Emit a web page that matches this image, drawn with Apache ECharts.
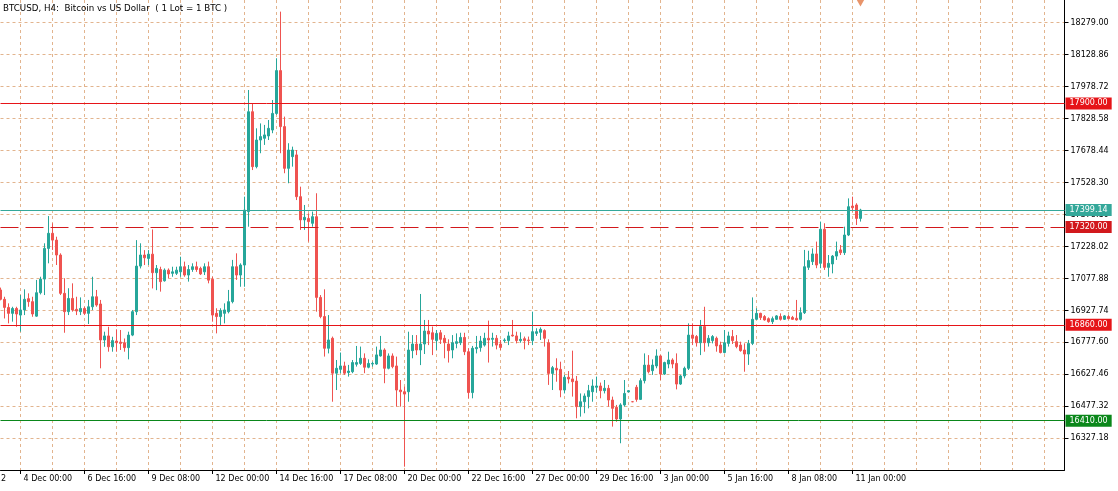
<!DOCTYPE html>
<html><head><meta charset="utf-8">
<script src="https://cdn.jsdelivr.net/npm/echarts@6/dist/echarts.min.js"></script>
<style>html,body{margin:0;padding:0;background:#fff}#c{width:1118px;height:491px}</style>
</head><body><div id="c"></div>
<script>
// ---- data (H4 bars) ----
const opens = [17024,16980,16942,16914,16937,16906,16930,16983,16969,16901,17011,17075,17219,17290,17258,17188,17008,16922,16984,16933,16922,16937,16914,16945,16992,16958,16789,16808,16757,16784,16779,16776,16753,16812,16922,17136,17188,17172,17192,17105,17120,17067,17117,17102,17102,17109,17133,17094,17120,17133,17125,17109,17133,17074,16914,16899,16914,16922,16969,17133,17094,17141,17392,17861,17603,17728,17736,17747,17775,17853,18054,17791,17595,17650,17658,17462,17353,17360,17337,17368,16989,16899,16750,16797,16633,16651,16667,16636,16640,16675,16679,16703,16661,16676,16676,16714,16742,16656,16714,16667,16554,16546,16546,16739,16770,16742,16770,16831,16823,16786,16823,16797,16770,16742,16773,16776,16801,16734,16542,16748,16753,16765,16797,16792,16797,16770,16786,16786,16812,16808,16786,16795,16789,16786,16820,16825,16833,16776,16632,16656,16651,16554,16614,16606,16596,16476,16499,16523,16546,16567,16573,16551,16562,16507,16473,16418,16484,16545,16499,16567,16510,16598,16671,16645,16667,16714,16629,16676,16695,16679,16582,16620,16656,16812,16805,16776,16852,16776,16786,16797,16765,16730,16773,16805,16781,16765,16742,16723,16773,16886,16914,16899,16889,16875,16886,16899,16886,16899,16895,16891,16886,16917,17130,17157,17193,17149,17309,17130,17146,17183,17212,17199,17282,17418,17423,17360];
const highs = [17035,16992,16961,16945,16945,17000,17027,17008,16992,17071,17086,17243,17371,17337,17274,17196,17079,17032,17055,16992,16989,16945,16977,17086,17024,16977,16828,16851,16804,16839,16836,16796,16828,16930,17258,17243,17211,17211,17308,17141,17133,17125,17125,17133,17133,17180,17157,17141,17149,17157,17133,17149,17157,17086,16938,16938,16961,17024,17165,17196,17149,17462,17963,17900,17783,17806,17799,17822,17916,18112,18331,17838,17713,17697,17681,17509,17423,17384,17392,17478,17000,17027,16906,16805,16695,16730,16687,16672,16695,16761,16758,16726,16698,16687,16758,16808,16750,16726,16726,16711,16601,16570,16828,16812,16812,17005,16883,16883,16852,16836,16836,16812,16792,16812,16820,16823,16823,16750,16761,16808,16808,16823,16880,16823,16812,16789,16797,16828,16883,16828,16825,16805,16805,16922,16844,16848,16839,16792,16667,16703,16687,16625,16643,16739,16620,16538,16538,16578,16604,16617,16589,16601,16578,16523,16484,16492,16601,16553,16501,16578,16609,16726,16718,16698,16745,16718,16687,16734,16703,16726,16625,16664,16867,16867,16812,16883,16945,16812,16812,16805,16781,16836,16828,16836,16812,16781,16773,16789,16989,16938,16917,16906,16895,16899,16906,16914,16906,16906,16902,16977,16942,17212,17208,17219,17251,17345,17337,17188,17188,17251,17235,17321,17454,17462,17431,17405];
const lows = [16975,16890,16867,16875,16851,16828,16906,16945,16898,16898,17003,17000,17149,17212,17141,17000,16823,16906,16922,16906,16906,16906,16864,16930,16945,16656,16757,16734,16734,16734,16742,16734,16698,16807,16906,17125,17141,17141,17031,17023,17016,17063,17078,17086,17094,17086,17086,17063,17109,17109,17094,17094,17055,16875,16820,16859,16867,16914,16961,17071,17039,17039,17321,17587,17595,17666,17705,17728,17760,17846,17666,17572,17525,17603,17446,17306,17306,17251,17321,16922,16891,16711,16726,16499,16554,16633,16625,16617,16633,16664,16672,16633,16656,16664,16672,16711,16586,16651,16656,16476,16476,16194,16499,16703,16718,16671,16723,16765,16718,16742,16770,16703,16683,16703,16750,16765,16718,16515,16515,16726,16734,16758,16683,16758,16745,16742,16776,16765,16805,16773,16776,16745,16765,16765,16808,16789,16758,16578,16554,16593,16520,16538,16585,16523,16421,16429,16445,16468,16499,16542,16515,16538,16476,16382,16405,16304,16476,16543,16497,16499,16507,16585,16632,16625,16656,16601,16625,16656,16656,16557,16578,16609,16648,16765,16758,16718,16734,16758,16773,16734,16726,16726,16758,16770,16750,16734,16640,16672,16765,16883,16883,16880,16870,16864,16883,16880,16883,16886,16883,16880,16880,16911,17118,17141,17126,17126,17118,17086,17102,17165,17188,17188,17277,17392,17329,17345];
const closes = [16980,16942,16914,16937,16911,16930,16980,16969,16911,17011,17075,17219,17290,17258,17188,17008,16922,16984,16930,16925,16937,16914,16945,16992,16953,16789,16808,16757,16786,16776,16773,16753,16812,16922,17136,17188,17175,17192,17105,17125,17063,17117,17099,17109,17117,17133,17094,17120,17133,17120,17099,17133,17070,16906,16899,16927,16930,16969,17133,17094,17141,17399,17861,17603,17728,17744,17752,17783,17853,18054,17791,17595,17681,17681,17462,17353,17365,17345,17368,16989,16899,16750,16789,16633,16656,16667,16633,16643,16683,16683,16703,16661,16679,16679,16719,16742,16656,16714,16664,16554,16546,16535,16742,16770,16742,16770,16831,16817,16792,16820,16792,16776,16739,16776,16781,16801,16734,16542,16750,16754,16784,16797,16789,16797,16765,16754,16789,16808,16808,16786,16792,16786,16786,16828,16828,16839,16797,16632,16659,16648,16554,16614,16606,16593,16476,16499,16526,16551,16573,16573,16551,16562,16507,16468,16418,16484,16538,16551,16499,16510,16598,16671,16640,16671,16714,16629,16683,16695,16676,16582,16620,16656,16812,16797,16776,16852,16776,16797,16805,16761,16730,16776,16808,16786,16758,16739,16723,16773,16886,16914,16894,16883,16875,16889,16902,16886,16902,16889,16886,16883,16917,17133,17162,17193,17141,17309,17130,17149,17183,17204,17199,17282,17415,17410,17360,17399.14];

// session starts (bar time, number of slots) -> category labels
const sessions = [['2022-12-03T04:00:00Z', 125], ['2022-12-25T16:00:00Z', 32], ['2023-01-01T16:00:00Z', 110]];
const timeTickLabels = ['4 Dec 00:00','6 Dec 16:00','9 Dec 08:00','12 Dec 00:00','14 Dec 16:00','17 Dec 08:00','20 Dec 00:00','22 Dec 16:00','27 Dec 00:00','29 Dec 16:00','3 Jan 00:00','5 Jan 16:00','8 Jan 08:00','11 Jan 00:00'];
const priceTicks = [16327.18,16477.32,16627.46,16777.60,16927.74,17077.88,17228.02,17378.16,17528.30,17678.44,17828.58,17978.72,18128.86,18279.00];
const levelValues = [17900.00, 17320.00, 16860.00, 16410.00, 17399.14];
const levelColors = ['rgb(230,20,24)', 'rgb(210,24,28)', 'rgb(230,20,24)', 'rgb(10,135,26)', 'rgb(52,168,154)'];
const levelTypes = ['solid', [18, 7], 'solid', 'solid', 'solid'];
const titleText = 'BTCUSD, H4:  Bitcoin vs US Dollar  ( 1 Lot = 1 BTC )';

const MON = ['Jan','Feb','Mar','Apr','May','Jun','Jul','Aug','Sep','Oct','Nov','Dec'];
const pad = n => String(n).padStart(2, '0');
const categories = [];
sessions.forEach(([start, count]) => {
  const t0 = Date.parse(start);
  for (let i = 0; i < count; i++) {
    const d = new Date(t0 + i * 4 * 3600 * 1000);
    categories.push(d.getUTCDate() + ' ' + MON[d.getUTCMonth()] + ' ' + pad(d.getUTCHours()) + ':' + pad(d.getUTCMinutes()));
  }
});
const candles = opens.map((o, i) => [o, closes[i], lows[i], highs[i]]);
const FONT = 'DejaVu Sans';
const GRID_COLOR = '#e2b48e';
const firstTickIdx = categories.indexOf(timeTickLabels[0]);

const levelSeries = levelValues.map((v, i) => ({
  type: 'line', data: [], silent: true, z: 3,
  markLine: {
    silent: true, symbol: ['none', 'none'], animation: false,
    lineStyle: {color: levelColors[i], type: levelTypes[i], width: 1, opacity: 1},
    label: {show: true, position: 'end', distance: 1, formatter: v.toFixed(2),
      backgroundColor: levelColors[i], color: '#fff', padding: [2, 4, 2, 4],
      fontFamily: FONT, fontSize: 8},
    data: [{yAxis: v}]
  }
}));

const chart = echarts.init(document.getElementById('c'), null, {renderer: 'canvas'});
chart.setOption({
  animation: false,
  backgroundColor: '#ffffff',
  grid: {left: 0.5, right: 53.5, top: 0, bottom: 21, containLabel: false},
  xAxis: {
    type: 'category', data: categories, boundaryGap: false,
    axisLine: {lineStyle: {color: '#000', width: 1}},
    axisTick: {show: true, length: 4, interval: (i, v) => timeTickLabels.includes(v), lineStyle: {color: '#000'}},
    axisLabel: {interval: (i, v) => timeTickLabels.includes(v), align: 'left', padding: [0, 0, 0, 3], margin: 5,
      color: '#000', fontFamily: FONT, fontSize: 8},
    splitLine: {show: true, interval: (i) => i >= firstTickIdx % 8 && (i - firstTickIdx) % 8 === 0,
      lineStyle: {color: GRID_COLOR, type: [3, 3], width: 1}}
  },
  yAxis: {
    type: 'value', position: 'right', min: 16178.4, max: 18385.6, scale: true,
    axisLine: {show: true, lineStyle: {color: '#000'}},
    axisTick: {show: true, length: 4, customValues: priceTicks, lineStyle: {color: '#000'}},
    axisLabel: {customValues: priceTicks, formatter: v => v.toFixed(2), margin: 6,
      color: '#000', fontFamily: FONT, fontSize: 8},
    splitLine: {show: true, lineStyle: {color: GRID_COLOR, type: [3, 3], width: 1}}
  },
  graphic: [
    {type: 'text', left: 3, top: 4, z: 10, style: {text: titleText, fill: '#000', font: '8.7px "DejaVu Sans"'}},
    {type: 'text', x: 6, y: 475, z: 10, style: {text: '3 Dec 2022', fill: '#000', font: '8px "DejaVu Sans"', textAlign: 'right', textVerticalAlign: 'top'}}
  ],
  series: [{
    type: 'candlestick', data: candles, barWidth: 3, z: 4,
    itemStyle: {color: '#26a69a', color0: '#ef5350', borderColor: '#26a69a', borderColor0: '#ef5350', borderWidth: 1},
    markPoint: {
      silent: true, animation: false,
      data: [{coord: [categories[closes.length - 1], 18372], symbol: 'triangle', symbolRotate: 180,
        symbolSize: [8, 7], itemStyle: {color: '#e8946a'}, label: {show: false}}]
    }
  }].concat(levelSeries)
});
</script></body></html>
